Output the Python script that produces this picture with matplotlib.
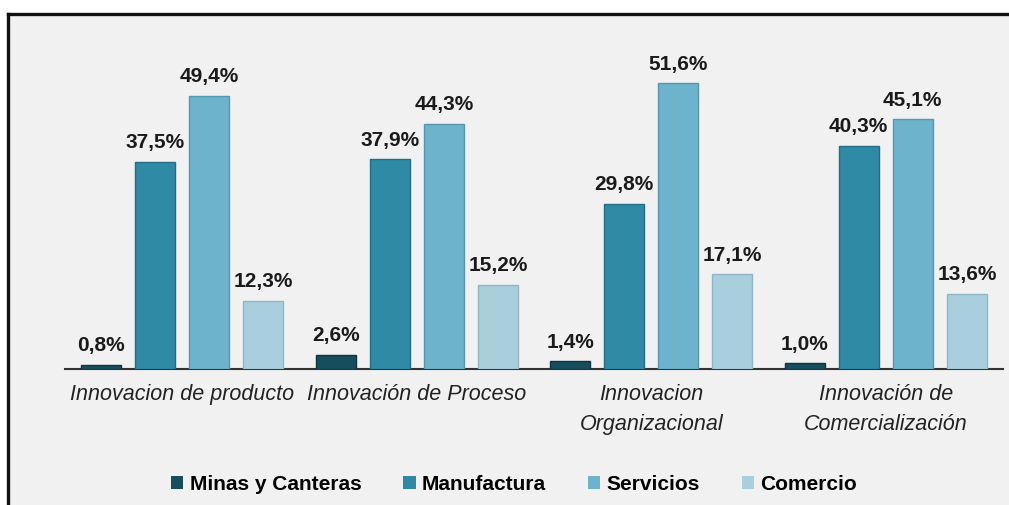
import matplotlib
matplotlib.use("Agg")
import matplotlib.pyplot as plt
import numpy as np
from matplotlib.patches import Rectangle, Patch
from matplotlib.lines import Line2D

categories = ["Innovacion de producto", "Innovación de Proceso",
              "Innovacion\nOrganizacional", "Innovación de\nComercialización"]
series_names = ["Minas y Canteras", "Manufactura", "Servicios", "Comercio"]
minas = [0.8, 2.6, 1.4, 1.0]
manufactura = [37.5, 37.9, 29.8, 40.3]
servicios = [49.4, 44.3, 51.6, 45.1]
comercio = [12.3, 15.2, 17.1, 13.6]
values = [minas, manufactura, servicios, comercio]
colors = ["#174e5e", "#2f8aa6", "#6db3cc", "#aacfdc"]
edges = ["#0f3440", "#226d85", "#5597b0", "#8fb6c4"]

W, H = 1009, 505
fig = plt.figure(figsize=(W / 100, H / 100), dpi=100)
fig.patch.set_facecolor("white")

# background panel and frame
fig.patches.append(Rectangle((8 / W, 0), 1 - 8 / W, (H - 14) / H,
                             transform=fig.transFigure, facecolor="#f1f1f1",
                             edgecolor="none", zorder=-10))
fig.lines.append(Line2D([8 / W, 1], [(H - 14) / H, (H - 14) / H],
                        transform=fig.transFigure, color="#111111", lw=2.4))
fig.lines.append(Line2D([8 / W, 8 / W], [0, (H - 14) / H],
                        transform=fig.transFigure, color="#111111", lw=2.4))

ax = fig.add_axes([65 / W, (H - 369) / H, 938 / W, 332 / H])
ax.set_zorder(5)
ax.set_facecolor("none")
x = np.arange(len(categories))
step = 0.2308
width = 0.171
for i, (vals, c, ec, name) in enumerate(zip(values, colors, edges, series_names)):
    pos = x + (i - 1.5) * step
    bars = ax.bar(pos, vals, width=width, color=c, edgecolor=ec, linewidth=1.0,
                  label=name, zorder=3)
    for xp, v in zip(pos, vals):
        ax.annotate(f"{v:.1f}%".replace(".", ","), (xp, v), xytext=(0, 7),
                    textcoords="offset points", ha="center", va="bottom",
                    fontsize=15, fontweight="bold", family="Liberation Sans",
                    color="#1a1a1a")

ax.set_xlim(-0.5, 3.5)
ax.set_ylim(0, 60)
for s in ["top", "right", "left"]:
    ax.spines[s].set_visible(False)
ax.spines["bottom"].set_color("#333333")
ax.spines["bottom"].set_linewidth(1.5)
ax.set_yticks([])
ax.set_xticks(x)
ax.set_xticklabels(categories, fontsize=15.5, style="italic",
                   family="Liberation Sans", color="#222222", linespacing=1.55)
ax.tick_params(axis="x", length=0, pad=11)

handles = [Patch(facecolor=c, edgecolor="none") for c in colors]
leg = fig.legend(handles, series_names, loc="center", bbox_to_anchor=(514 / W, 21 / H),
                 ncol=4, frameon=False, handlelength=0.6, handleheight=0.6,
                 handletextpad=0.3, columnspacing=2.0,
                 prop={"family": "Liberation Sans", "weight": "bold", "size": 15})
leg.set_zorder(6)

fig.savefig("out.png", dpi=100)
